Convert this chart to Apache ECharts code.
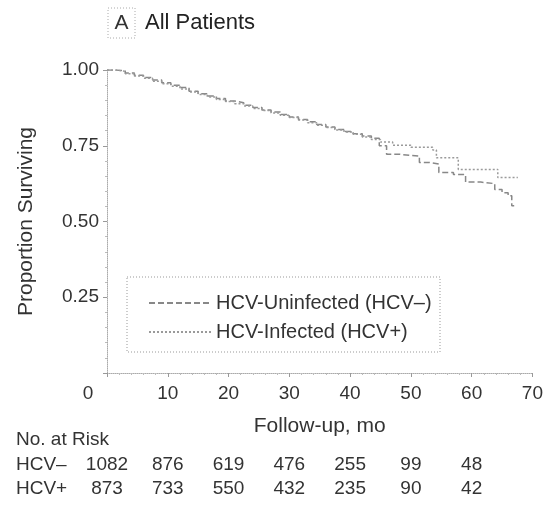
<!DOCTYPE html>
<html>
<head>
<meta charset="utf-8">
<script src="https://cdn.jsdelivr.net/npm/echarts@6/dist/echarts.min.js"></script>
<style>
  html, body { margin: 0; padding: 0; background: #fff; }
  #chart { width: 546px; height: 512px; }
</style>
</head>
<body>
<div id="chart"></div>
<script>
// Kaplan-Meier estimates (months, proportion surviving)
const hcvNegTime = [0, 1.5, 3, 4.5, 6, 7.5, 9, 10.5, 12, 13.5, 15, 16.5, 18, 19.5, 21, 22.5, 24, 25.5, 27, 28.5, 30, 31.5, 33, 34.5, 36, 37.5, 39, 40.5, 42, 43.5, 44.8, 46, 48, 51.4, 53, 54.6, 57, 59, 61.5, 63.8, 65, 66, 66.6, 67];
const hcvNegSurv = [1, .997, .99, .983, .975, .967, .958, .950, .942, .930, .922, .914, .906, .898, .892, .884, .876, .868, .861, .853, .845, .837, .829, .820, .812, .804, .797, .790, .782, .775, .750, .722, .716, .695, .690, .662, .655, .630, .625, .606, .595, .585, .552, .552];

const hcvPosTime = [0, 1.5, 3, 4.5, 6, 7.5, 9, 10.5, 12, 13.5, 15, 16.5, 18, 19.5, 21, 22.5, 24, 25.5, 27, 28.5, 30, 31.5, 33, 34.5, 36, 37.5, 39, 40.5, 42, 43.5, 45, 47, 50, 53.6, 54.2, 57.8, 64.3, 67.6];
const hcvPosSurv = [1, .996, .988, .98, .973, .963, .955, .946, .937, .927, .919, .911, .903, .896, .889, .881, .873, .866, .858, .851, .843, .835, .826, .818, .810, .802, .795, .788, .779, .771, .762, .752, .745, .736, .71, .672, .645, .645];

// number at risk table
const riskTimes = [0, 10, 20, 30, 40, 50, 60];
const riskNeg = [1082, 876, 619, 476, 255, 99, 48];
const riskPos = [873, 733, 550, 432, 235, 90, 42];

const seriesNames = ['HCV-Uninfected (HCV\u2013)', 'HCV-Infected (HCV+)'];
const font = '"Liberation Sans", Arial, sans-serif';
const ink = '#333';

function pairs(t, s) {
  return t.map((v, i) => [v, s[i]]);
}

const chart = echarts.init(document.getElementById('chart'), null, { renderer: 'canvas' });

const axisCommon = {
  axisLine: { show: true, lineStyle: { color: '#aaa', type: 'dotted', width: 1 } },
  axisTick: { show: true, inside: false, length: 4, lineStyle: { color: '#999' } },
  minorTick: { show: true, splitNumber: 5, length: 2, lineStyle: { color: '#bbb' } },
  splitLine: { show: false },
  axisLabel: { color: ink, fontSize: 19, fontFamily: font }
};

chart.setOption({
  animation: false,
  color: ['#888', '#9a9a9a'],
  grid: { left: 107, top: 70, right: 8, bottom: 139, containLabel: false },
  xAxis: Object.assign({}, axisCommon, {
    type: 'value',
    min: 0, max: 70, interval: 10,
    name: 'Follow-up, mo',
    nameLocation: 'middle',
    nameGap: 43,
    nameTextStyle: { color: ink, fontSize: 21, fontFamily: font },
    axisLabel: Object.assign({}, axisCommon.axisLabel, {
      margin: 11,
      formatter: v => v === 0 ? '{z|0}' : String(v),
      rich: { z: { fontSize: 19, fontFamily: font, color: ink, padding: [0, 38, 0, 0] } }
    })
  }),
  yAxis: Object.assign({}, axisCommon, {
    type: 'value',
    min: 0, max: 1, interval: 0.25,
    name: 'Proportion Surviving',
    nameLocation: 'middle',
    nameGap: 70,
    nameTextStyle: { color: ink, fontSize: 21, fontFamily: font },
    axisLabel: Object.assign({}, axisCommon.axisLabel, {
      margin: 8,
      showMinLabel: false,
      formatter: v => v.toFixed(2)
    })
  }),
  legend: {
    orient: 'vertical',
    left: 143, top: 288,
    itemWidth: 62, itemHeight: 10, itemGap: 9,
    itemStyle: { opacity: 0 },
    textStyle: { color: ink, fontSize: 20, fontFamily: font },
    data: seriesNames
  },
  series: [{
    name: seriesNames[0],
    type: 'line',
    step: 'end',
    symbol: 'none',
    data: pairs(hcvNegTime, hcvNegSurv),
    itemStyle: { color: '#888' },
    lineStyle: { color: '#888', width: 1.5, type: [6, 3] }
  }, {
    name: seriesNames[1],
    type: 'line',
    step: 'end',
    symbol: 'none',
    data: pairs(hcvPosTime, hcvPosSurv),
    itemStyle: { color: '#9a9a9a' },
    lineStyle: { color: '#9a9a9a', width: 1.5, type: [2, 2] }
  }]
});

// panel label, legend frame and number-at-risk table
const graphics = [
  { type: 'rect', shape: { x: 108, y: 8, width: 27, height: 30 },
    style: { fill: 'none', stroke: '#aaa', lineWidth: 1, lineDash: [1, 2] } },
  { type: 'text', x: 121.5, y: 23,
    style: { text: 'A', fontSize: 21, fontFamily: font, fill: ink, align: 'center', verticalAlign: 'middle' } },
  { type: 'text', x: 145, y: 23,
    style: { text: 'All Patients', fontSize: 22, fontFamily: font, fill: '#222', align: 'left', verticalAlign: 'middle' } },
  { type: 'rect', shape: { x: 127, y: 277, width: 313, height: 75 },
    style: { fill: 'none', stroke: '#999', lineWidth: 1, lineDash: [1, 2] } },
  { type: 'text', x: 16, y: 440,
    style: { text: 'No. at Risk', fontSize: 19, fontFamily: font, fill: ink, verticalAlign: 'middle' } },
  { type: 'text', x: 16, y: 465,
    style: { text: 'HCV\u2013', fontSize: 19, fontFamily: font, fill: ink, verticalAlign: 'middle' } },
  { type: 'text', x: 16, y: 489,
    style: { text: 'HCV+', fontSize: 19, fontFamily: font, fill: ink, verticalAlign: 'middle' } }
];

riskTimes.forEach((t, i) => {
  const px = chart.convertToPixel({ xAxisIndex: 0 }, t);
  graphics.push({ type: 'text', x: px, y: 465,
    style: { text: String(riskNeg[i]), fontSize: 19, fontFamily: font, fill: ink, align: 'center', verticalAlign: 'middle' } });
  graphics.push({ type: 'text', x: px, y: 489,
    style: { text: String(riskPos[i]), fontSize: 19, fontFamily: font, fill: ink, align: 'center', verticalAlign: 'middle' } });
});

chart.setOption({ graphic: graphics });
</script>
</body>
</html>
